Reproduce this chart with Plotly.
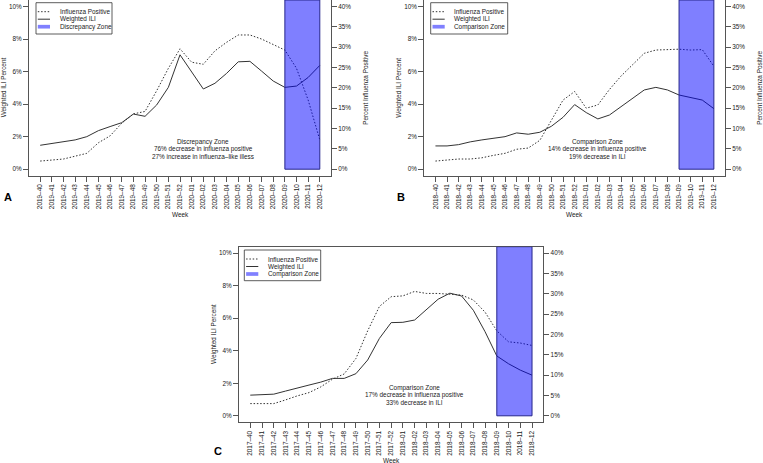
import plotly.graph_objects as go

W, H = 763, 463

# ---------------- data ----------------
weeks_A = ["2019–40", "2019–41", "2019–42", "2019–43", "2019–44", "2019–45", "2019–46",
           "2019–47", "2019–48", "2019–49", "2019–50", "2019–51", "2019–52", "2020–01",
           "2020–02", "2020–03", "2020–04", "2020–05", "2020–06", "2020–07", "2020–08",
           "2020–09", "2020–10", "2020–11", "2020–12"]
ili_A = [1.47, 1.57, 1.70, 1.80, 2.00, 2.37, 2.62, 2.86, 3.39, 3.25, 3.95, 5.03, 7.03,
         6.00, 4.93, 5.28, 5.89, 6.60, 6.63, 6.03, 5.42, 5.03, 5.11, 5.64, 6.38]
flu_A = [2.0, 2.3, 2.5, 3.2, 3.9, 6.5, 8.2, 11.3, 13.6, 14.2, 19.3, 24.8, 29.6,
         26.3, 25.8, 29.1, 31.2, 33.0, 33.0, 32.0, 30.7, 29.3, 24.8, 17.0, 7.2]
zone_A = ["2020–09", "2020–12"]
zone_name_A = "Discrepancy Zone"
notes_A = ["Discrepancy Zone", "76% decrease in influenza positive",
           "27% increase in influenza–like illess"]

weeks_B = ["2018–40", "2018–41", "2018–42", "2018–43", "2018–44", "2018–45", "2018–46",
           "2018–47", "2018–48", "2018–49", "2018–50", "2018–51", "2018–52", "2019–01",
           "2019–02", "2019–03", "2019–04", "2019–05", "2019–06", "2019–07", "2019–08",
           "2019–09", "2019–10", "2019–11", "2019–12"]
ili_B = [1.43, 1.43, 1.51, 1.68, 1.80, 1.88, 2.00, 2.23, 2.15, 2.27, 2.64, 3.19, 3.97,
         3.48, 3.09, 3.33, 3.84, 4.38, 4.87, 5.03, 4.87, 4.56, 4.42, 4.25, 3.72]
flu_B = [2.0, 2.2, 2.5, 2.5, 2.8, 3.4, 3.9, 4.9, 5.2, 7.1, 12.1, 17.0, 19.1,
         15.0, 15.8, 19.6, 22.9, 25.8, 28.5, 29.3, 29.4, 29.5, 29.3, 29.4, 25.3]
zone_B = ["2019–09", "2019–12"]
zone_name_B = "Comparison Zone"
notes_B = ["Comparison Zone", "14% decrease in influenza positive", "19% decrease in ILI"]

weeks_C = ["2017–40", "2017–41", "2017–42", "2017–43", "2017–44", "2017–45", "2017–46",
           "2017–47", "2017–48", "2017–49", "2017–50", "2017–51", "2017–52", "2018–01",
           "2018–02", "2018–03", "2018–04", "2018–05", "2018–06", "2018–07", "2018–08",
           "2018–09", "2018–10", "2018–11", "2018–12"]
ili_C = [1.27, 1.31, 1.33, 1.52, 1.72, 1.89, 2.07, 2.30, 2.30, 2.59, 3.43, 4.76, 5.73,
         5.75, 5.89, 6.51, 7.17, 7.54, 7.37, 6.49, 5.17, 3.68, 3.20, 2.81, 2.50]
flu_C = [3.0, 3.0, 3.0, 3.9, 4.9, 5.7, 7.1, 9.0, 10.3, 14.1, 20.9, 26.9, 29.3,
         29.5, 30.6, 30.1, 30.1, 29.9, 29.7, 28.5, 25.5, 20.9, 18.2, 17.9, 17.3]
zone_C = ["2018–09", "2018–12"]
zone_name_C = "Comparison Zone"
notes_C = ["Comparison Zone", "17% decrease in influenza positive", "33% decrease in ILI"]

left_ticks = [0, 2, 4, 6, 8, 10]
left_tick_labels = ["0%", "2%", "4%", "6%", "8%", "10%"]
right_ticks = [0, 5, 10, 15, 20, 25, 30, 35, 40]
right_tick_labels = ["0%", "5%", "10%", "15%", "20%", "25%", "30%", "35%", "40%"]

# ---------------- styling ----------------
FONT = "Arial, Liberation Sans, sans-serif"
FS = 6.4
TXT = "#1a1a1a"
AX = "#555555"
LINE = "#333333"
ZONE_FILL = "rgba(0,0,255,0.5)"
ZONE_EDGE = "#26268c"
LEG_ZONE = "#8080ff"
DOT = "1.5px,1.8px"


def px(x):
    return x / W


def py(y):
    return 1 - y / H


panels = [
    dict(letter="A", weeks=weeks_A, ili=ili_A, flu=flu_A, zone=zone_A, zname=zone_name_A,
         notes=notes_A, box=(29, 0, 331, 175.7), leg=(36, 2.7, 76, 31.3),
         letter_xy=(7.5, 197), week_y=214, right_title=True),
    dict(letter="B", weeks=weeks_B, ili=ili_B, flu=flu_B, zone=zone_B, zname=zone_name_B,
         notes=notes_B, box=(424.3, 0, 725, 175.7), leg=(430.7, 2.7, 77, 31.3),
         letter_xy=(400.5, 197), week_y=214, right_title=True),
    dict(letter="C", weeks=weeks_C, ili=ili_C, flu=flu_C, zone=zone_C, zname=zone_name_C,
         notes=notes_C, box=(239, 246.7, 543.3, 422.3), leg=(244.3, 250, 76.4, 30.7),
         letter_xy=(218, 451), week_y=460, right_title=False),
]

fig = go.Figure()
layout = dict(width=W, height=H, autosize=False, margin=dict(l=0, r=0, t=0, b=0, pad=0),
              paper_bgcolor="white", plot_bgcolor="white", showlegend=False,
              hovermode=False,
              font=dict(family=FONT, size=FS, color=TXT))
shapes, annos = [], []

for i, p in enumerate(panels):
    xn = "x" if i == 0 else f"x{i + 1}"
    yl = "y" if i == 0 else f"y{2 * i + 1}"
    yr = f"y{2 * i + 2}"
    xkey = "xaxis" if i == 0 else f"xaxis{i + 1}"
    ylkey = "yaxis" if i == 0 else f"yaxis{2 * i + 1}"
    yrkey = f"yaxis{2 * i + 2}"
    l, t, r, b = p["box"]
    n = len(p["weeks"])
    layout[xkey] = dict(domain=[px(l), px(r)], anchor=yl, type="category",
                        range=[-0.04 * (n - 1), (n - 1) * 1.04],
                        tickmode="array", tickvals=p["weeks"], ticktext=p["weeks"],
                        tickangle=-90, ticks="outside", ticklen=5, tickcolor=AX,
                        showline=True, linecolor=AX, linewidth=1, mirror=True,
                        showgrid=False, zeroline=False,
                        tickfont=dict(family=FONT, size=FS, color=TXT))
    layout[ylkey] = dict(domain=[py(b), py(t)], anchor=xn, range=[-0.4, 10.4],
                         tickmode="array", tickvals=left_ticks, ticktext=left_tick_labels,
                         ticks="outside", ticklen=5, tickcolor=AX,
                         showline=True, linecolor=AX, linewidth=1, mirror=True,
                         showgrid=False, zeroline=False,
                         tickfont=dict(family=FONT, size=FS, color=TXT))
    layout[yrkey] = dict(overlaying=yl, side="right", anchor=xn, range=[-1.6, 41.6],
                         tickmode="array", tickvals=right_ticks, ticktext=right_tick_labels,
                         ticks="outside", ticklen=5, tickcolor=AX,
                         showline=False, showgrid=False, zeroline=False,
                         tickfont=dict(family=FONT, size=FS, color=TXT))

    fig.add_trace(go.Scatter(x=p["weeks"], y=p["flu"], xaxis=xn, yaxis=yr, mode="lines",
                             name="Influenza Positive",
                             line=dict(color=LINE, width=1, dash=DOT)))
    fig.add_trace(go.Scatter(x=p["weeks"], y=p["ili"], xaxis=xn, yaxis=yl, mode="lines",
                             name="Weighted ILI",
                             line=dict(color=LINE, width=1)))

    # zone rectangle
    shapes.append(dict(type="rect", xref=xn, yref=yl, layer="above",
                       x0=p["weeks"].index(p["zone"][0]), x1=p["weeks"].index(p["zone"][1]),
                       y0=0, y1=10.4, fillcolor=ZONE_FILL,
                       line=dict(color=ZONE_EDGE, width=1)))

    # zone notes
    for k, (txt, yv) in enumerate(zip(p["notes"], [1.69, 1.25, 0.81])):
        annos.append(dict(xref=xn, yref=yl, x=14, y=yv, text=txt, showarrow=False,
                          xanchor="center", yanchor="middle",
                          font=dict(family=FONT, size=FS, color=TXT)))

    # manual legend (R style)
    lx, ly, lw, lh = p["leg"]
    shapes.append(dict(type="rect", xref="paper", yref="paper", layer="above",
                       x0=px(lx), x1=px(lx + lw), y0=py(ly + lh), y1=py(ly),
                       line=dict(color="#333333", width=0.8), fillcolor="white"))
    items = [("Influenza Positive", dict(color=LINE, width=1, dash=DOT)),
             ("Weighted ILI", dict(color=LINE, width=1)),
             (p["zname"], dict(color=LEG_ZONE, width=3.7))]
    for k, (lab, ln) in enumerate(items):
        yy = ly + 9 + k * 7.5
        shapes.append(dict(type="line", xref="paper", yref="paper", layer="above",
                           x0=px(lx + 1.8), x1=px(lx + 14), y0=py(yy), y1=py(yy), line=ln))
        annos.append(dict(xref="paper", yref="paper", x=px(lx + 21.5), y=py(yy), text=lab,
                          showarrow=False, xanchor="left", yanchor="middle",
                          font=dict(family=FONT, size=FS, color=TXT)))

    # axis titles
    cy = (t + b) / 2
    annos.append(dict(xref="paper", yref="paper", x=px(l - 25.5), y=py(cy),
                      text="Weighted ILI Percent", textangle=-90, showarrow=False,
                      xanchor="center", yanchor="middle",
                      font=dict(family=FONT, size=FS, color=TXT)))
    if p["right_title"]:
        annos.append(dict(xref="paper", yref="paper", x=px(r + 35), y=py(cy),
                          text="Percent Influenza Positive", textangle=-90, showarrow=False,
                          xanchor="center", yanchor="middle",
                          font=dict(family=FONT, size=FS, color=TXT)))
    annos.append(dict(xref="paper", yref="paper", x=px((l + r) / 2), y=py(p["week_y"]),
                      text="Week", showarrow=False, xanchor="center", yanchor="middle",
                      font=dict(family=FONT, size=FS, color=TXT)))
    # panel letter
    annos.append(dict(xref="paper", yref="paper", x=px(p["letter_xy"][0]),
                      y=py(p["letter_xy"][1]), text="<b>" + p["letter"] + "</b>",
                      showarrow=False, xanchor="center", yanchor="middle",
                      font=dict(family=FONT, size=11, color="#000000")))

layout["shapes"] = shapes
layout["annotations"] = annos
fig.update_layout(**layout)
fig.update_traces(hoverinfo="skip")
fig.write_html("out.html", config={"displayModeBar": False, "staticPlot": True},
               post_script="document.body.style.margin='0';document.body.style.overflow='hidden';")
